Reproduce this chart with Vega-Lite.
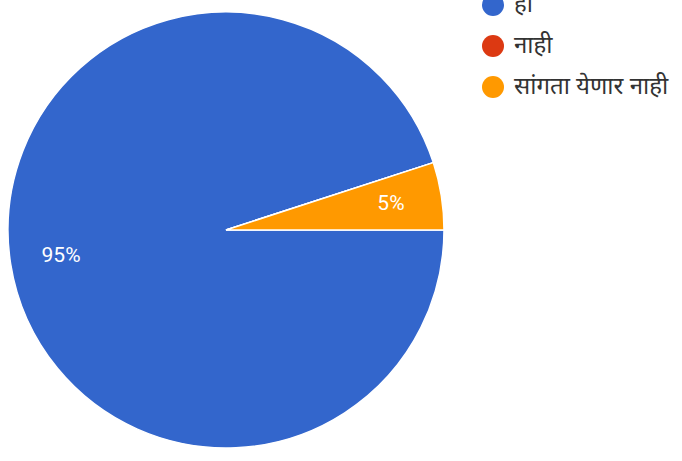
{
  "$schema": "https://vega.github.io/schema/vega-lite/v6.json",
  "width": 452,
  "height": 460,
  "autosize": {"type": "none"},
  "padding": {"left": 0, "top": 0, "right": 230, "bottom": 1},
  "background": "white",
  "config": {"view": {"stroke": null}, "font": "Noto Sans"},
  "data": {
    "values": [
      {"answer": "हा", "value": 95, "order": 2, "label": "95%"},
      {"answer": "नाही", "value": 0, "order": 3, "label": ""},
      {"answer": "सांगता येणार नाही", "value": 5, "order": 1, "label": "5%"}
    ]
  },
  "encoding": {
    "theta": {"field": "value", "type": "quantitative", "stack": true, "scale": {"range": [1.2566, 7.5398]}},
    "order": {"field": "order", "type": "quantitative"}
  },
  "layer": [
    {
      "mark": {"type": "arc", "outerRadius": 218, "stroke": "white", "strokeWidth": 1.5},
      "encoding": {
        "color": {
          "field": "answer",
          "type": "nominal",
          "scale": {"domain": ["हा", "नाही", "सांगता येणार नाही"], "range": ["#3366cc", "#dc3912", "#ff9900"]},
          "legend": {
            "title": null,
            "orient": "none",
            "legendX": 481,
            "legendY": -7,
            "symbolType": "circle",
            "symbolSize": 484,
            "symbolStrokeWidth": 0,
            "labelFontSize": 24,
            "labelColor": "#333333",
            "labelOffset": 9,
            "rowPadding": 17,
            "labelLimit": 300
          }
        }
      }
    },
    {
      "mark": {"type": "text", "radius": 167, "color": "white", "fontSize": 21, "font": "Roboto"},
      "encoding": {"text": {"field": "label", "type": "nominal"}}
    }
  ]
}
